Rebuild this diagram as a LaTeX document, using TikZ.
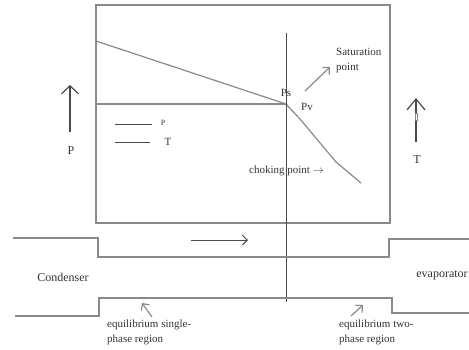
\documentclass[tikz,border=0pt]{standalone}
\usepackage{fontspec}
\setmainfont{Liberation Serif}
\usetikzlibrary{arrows.meta}
\definecolor{linegray}{HTML}{8A8A8A}
\definecolor{darkline}{HTML}{4A4A4A}
\definecolor{txt}{HTML}{333333}
\begin{document}
\begin{tikzpicture}[x=1pt,y=-1pt,
  gline/.style={draw=linegray,line width=1.2pt},
  dline/.style={draw=darkline,line width=1.2pt},
  lbl/.style={text=txt,inner sep=0pt,font=\fontsize{11}{12}\selectfont},
  biglbl/.style={text=txt,inner sep=0pt,font=\fontsize{12}{13}\selectfont},
  multilbl/.style={text=txt,inner sep=0pt,align=left,anchor=north west,font=\fontsize{11}{14.5}\selectfont},
  barb/.style={-{Straight Barb[length=5pt,width=10pt]}},
  bigbarb/.style={-{Straight Barb[length=8pt,width=17pt]}}]
\useasboundingbox (0,0) rectangle (469,349);
% main chart box
\draw[gline] (96,5) rectangle (390,223);
% coordinates
\coordinate (l0) at (96,41);
\coordinate (ps) at (286,104);
\coordinate (h0) at (96,104);
\coordinate (c1) at (300,119);
\coordinate (c2) at (336,162);
\coordinate (c3) at (361,183);
\coordinate (vtop) at (286,33);
\coordinate (vbot) at (286,302);
\draw[gline] (l0) -- (ps);
\draw[gline] (h0) -- (ps);
\draw[gline] (ps) -- (c1) -- (c2) -- (c3);
\draw[dline,line width=1pt] (vtop) -- (vbot);
% labels at the junction
\node[lbl] (lps) at (286,93) {Ps};
\node[lbl] (lpv) at (307,107) {Pv};
\node[lbl,anchor=north west,align=left,font=\fontsize{11}{15}\selectfont] (sat) at (336,48) {Saturation\\point};
\coordinate (sa0) at (305,91);
\coordinate (sa1) at (330,67);
\draw[gline,barb] (sa0) -- (sa1);
\node[lbl,anchor=west] (chok) at (249,171) {choking point $\rightarrow$};
% legend
\coordinate (lg1a) at (115,124); \coordinate (lg1b) at (152,124);
\coordinate (lg2a) at (115,142); \coordinate (lg2b) at (150,142);
\draw[dline,line width=0.9pt] (lg1a) -- (lg1b);
\draw[dline,line width=0.9pt] (lg2a) -- (lg2b);
\node[lbl,font=\fontsize{8}{9}\selectfont] (legp) at (163,123) {P};
\node[lbl] (legt) at (168,142) {T};
% P and T axes arrows
\coordinate (pa0) at (70,132); \coordinate (pa1) at (70,85);
\draw[dline,bigbarb] (pa0) -- (pa1);
\node[biglbl] (plab) at (71,151) {P};
\coordinate (ta0) at (416,142); \coordinate (ta1) at (416,98);
\draw[dline,-{Straight Barb[length=11pt,width=18pt]}] (ta0) -- (ta1);
\draw[draw=linegray,fill=white,line width=0.6pt] (415,113) rectangle (417.5,120);
\node[biglbl] (tlab) at (417,160) {T};
% pipes
\coordinate (u0) at (13,238); \coordinate (u1) at (98,238); \coordinate (u2) at (98,257);
\coordinate (u3) at (389,257); \coordinate (u4) at (389,239); \coordinate (u5) at (469,239);
\draw[gline] (u0) -- (u1) -- (u2) -- (u3) -- (u4) -- (u5);
\coordinate (b0) at (15,316); \coordinate (b1) at (99,316); \coordinate (b2) at (99,298);
\coordinate (b3) at (392,298); \coordinate (b4) at (392,313); \coordinate (b5) at (469,313);
\draw[gline] (b0) -- (b1) -- (b2) -- (b3) -- (b4) -- (b5);
% flow arrow
\coordinate (fa0) at (191,240); \coordinate (fa1) at (248,240);
\draw[dline,line width=1pt,barb] (fa0) -- (fa1);
\node[biglbl] (cond) at (63,277) {Condenser};
\node[biglbl] (evap) at (442,275) {evaporator};
% region labels
\node[multilbl] (eq1) at (107,320) {equilibrium single-\\phase region};
\coordinate (ea0) at (152,317); \coordinate (ea1) at (142,303);
\draw[gline,barb] (ea0) -- (ea1);
\node[multilbl] (eq2) at (339,320) {equilibrium two-\\phase region};
\coordinate (eb0) at (351,316); \coordinate (eb1) at (363,305);
\draw[gline,barb] (eb0) -- (eb1);
\end{tikzpicture}
\end{document}
